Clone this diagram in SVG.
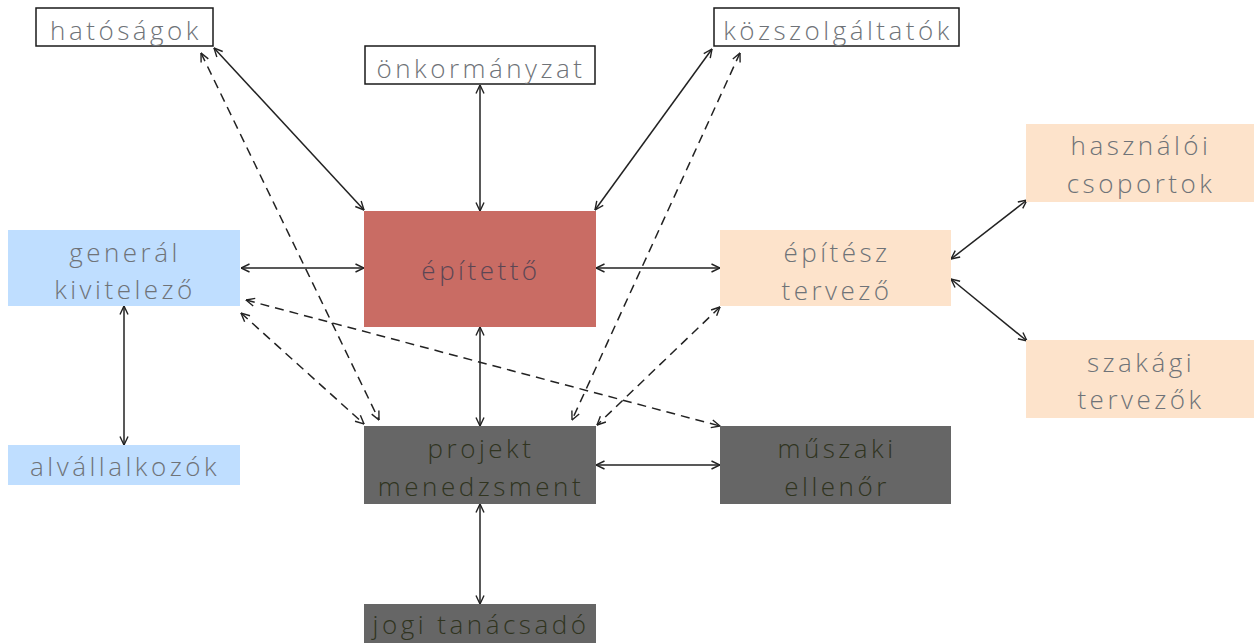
<svg xmlns="http://www.w3.org/2000/svg" width="1254" height="643" viewBox="0 0 1254 643">
  <style>
    .lbl { font-family: "Open Sans", "Liberation Sans", sans-serif; font-weight: 300; font-size: 26px; letter-spacing: 3.5px; text-anchor: middle; }
    .outline { fill: #ffffff; stroke: #1a1a1a; stroke-width: 1.5; }
    .blue { fill: #bfdeff; }
    .peach { fill: #fde3cb; }
    .red { fill: #c96c64; }
    .gray { fill: #666666; }
    .t-light { fill: #6f7378; }
    .t-red { fill: #5b4654; }
    .t-gray { fill: #30341f; }
    .link { fill: none; stroke: #222222; stroke-width: 1.5; marker-start: url(#arr); marker-end: url(#arr); }
    .dash { stroke-dasharray: 9 6; }
  </style>
  <defs>
    <marker id="arr" viewBox="0 0 10 10" refX="9.5" refY="5" markerWidth="10" markerHeight="10" markerUnits="userSpaceOnUse" orient="auto-start-reverse">
      <path d="M1,1 L9.5,5 L1,9" fill="none" stroke="#222222" stroke-width="1.4"/>
    </marker>
  </defs>

  <rect width="1254" height="643" fill="#ffffff"/>

  <!-- connectors -->
  <g id="connectors">
    <line class="link" x1="214" y1="48" x2="364" y2="210"/>
    <line class="link" x1="480" y1="85" x2="480" y2="211"/>
    <line class="link" x1="712" y1="49" x2="595" y2="210"/>
    <line class="link" x1="241" y1="268" x2="364" y2="268"/>
    <line class="link" x1="596" y1="268" x2="720" y2="268"/>
    <line class="link" x1="480" y1="327" x2="480" y2="426"/>
    <line class="link" x1="124" y1="306" x2="124" y2="445"/>
    <line class="link" x1="596" y1="465" x2="720" y2="465"/>
    <line class="link" x1="480" y1="504" x2="480" y2="604"/>
    <line class="link" x1="951" y1="259" x2="1027" y2="200"/>
    <line class="link" x1="951" y1="279" x2="1027" y2="341"/>
    <line class="link dash" x1="201" y1="53" x2="379" y2="420"/>
    <line class="link dash" x1="740" y1="53" x2="572" y2="420"/>
    <line class="link dash" x1="241" y1="313" x2="364" y2="424"/>
    <line class="link dash" x1="246" y1="300" x2="720" y2="426"/>
    <line class="link dash" x1="720" y1="307" x2="597" y2="425"/>
  </g>

  <g id="hatosagok">
    <rect class="outline" x="36" y="8" width="177" height="38"/>
    <text class="lbl t-light" x="126" y="40">hatóságok</text>
  </g>
  <g id="onkormanyzat">
    <rect class="outline" x="365" y="46" width="230" height="38"/>
    <text class="lbl t-light" x="481" y="78">önkormányzat</text>
  </g>
  <g id="kozszolgaltatok">
    <rect class="outline" x="714" y="8" width="245" height="38"/>
    <text class="lbl t-light" x="838" y="40">közszolgáltatók</text>
  </g>
  <g id="epitetto">
    <rect class="red" x="364" y="211" width="232" height="116"/>
    <text class="lbl t-red" x="481" y="280">építettő</text>
  </g>
  <g id="general-kivitelezo">
    <rect class="blue" x="8" y="230" width="232" height="76"/>
    <text class="lbl t-light" x="125" y="262">generál</text>
    <text class="lbl t-light" x="125" y="299">kivitelező</text>
  </g>
  <g id="alvallalkozok">
    <rect class="blue" x="8" y="445" width="232" height="40"/>
    <text class="lbl t-light" x="125" y="476">alvállalkozók</text>
  </g>
  <g id="epitesz-tervezo">
    <rect class="peach" x="720" y="230" width="231" height="76"/>
    <text class="lbl t-light" x="837" y="262">építész</text>
    <text class="lbl t-light" x="837" y="300">tervező</text>
  </g>
  <g id="hasznaloi-csoportok">
    <rect class="peach" x="1026" y="124" width="228" height="78"/>
    <text class="lbl t-light" x="1141" y="155">használói</text>
    <text class="lbl t-light" x="1141" y="193">csoportok</text>
  </g>
  <g id="szakagi-tervezok">
    <rect class="peach" x="1026" y="340" width="228" height="78"/>
    <text class="lbl t-light" x="1141" y="372">szakági</text>
    <text class="lbl t-light" x="1141" y="409">tervezők</text>
  </g>
  <g id="projekt-menedzsment">
    <rect class="gray" x="364" y="426" width="232" height="78"/>
    <text class="lbl t-gray" x="481" y="458">projekt</text>
    <text class="lbl t-gray" x="481" y="496">menedzsment</text>
  </g>
  <g id="muszaki-ellenor">
    <rect class="gray" x="720" y="426" width="231" height="78"/>
    <text class="lbl t-gray" x="837" y="458">műszaki</text>
    <text class="lbl t-gray" x="837" y="496">ellenőr</text>
  </g>
  <g id="jogi-tanacsado">
    <rect class="gray" x="364" y="604" width="232" height="40"/>
    <text class="lbl t-gray" x="481" y="634">jogi tanácsadó</text>
  </g>
</svg>
